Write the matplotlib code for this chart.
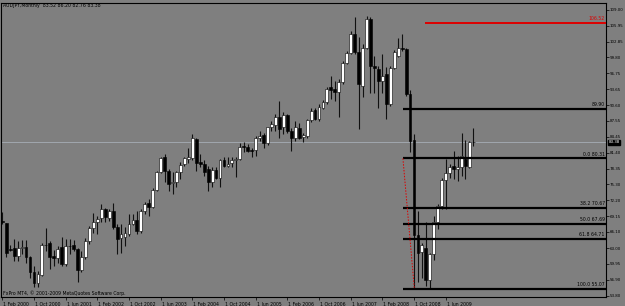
import matplotlib
matplotlib.use("Agg")
import matplotlib.pyplot as plt
import matplotlib.transforms as mtransforms

# ---------------- data ----------------
opens = [68.3, 67.8, 62.9, 63.0, 61.4, 63.0, 63.2, 61.2, 58.4, 56.3,
         57.8, 63.6, 63.9, 61.5, 61.1, 63.2, 60.0, 63.4, 63.6, 62.8,
         58.7, 61.2, 64.3, 66.9, 68.1, 68.8, 70.5, 68.8, 70.2, 67.1,
         64.9, 65.1, 65.8, 67.7, 68.4, 66.3, 70.1, 71.6, 71.0, 74.2,
         77.6, 80.5, 77.9, 75.6, 75.7, 77.6, 79.2, 80.2, 80.4, 84.0,
         79.7, 79.3, 78.2, 75.8, 78.0, 76.5, 79.9, 78.9, 79.4, 80.0,
         80.2, 82.6, 82.6, 81.9, 81.9, 84.3, 84.9, 83.2, 86.3, 86.8,
         88.3, 86.3, 88.7, 85.6, 84.2, 86.2, 84.5, 84.7, 87.7, 89.6,
         87.9, 90.1, 91.1, 94.1, 93.7, 93.2, 95.0, 98.8, 100.6, 104.4,
         100.8, 94.3, 101.7, 107.2, 98.1, 97.5, 95.2, 96.5, 90.9, 97.7,
         100.1, 101.7, 101.4, 92.7, 83.8, 65.6, 62.2, 63.1, 56.8, 61.8,
         68.0, 71.2, 76.1, 77.4, 78.9, 78.2, 78.7, 80.2, 78.7, 83.52]
highs = [70.0, 67.9, 63.6, 64.7, 64.4, 64.5, 64.5, 61.5, 59.6, 58.6,
         63.9, 66.9, 64.4, 62.6, 63.4, 65.2, 64.7, 64.7, 64.5, 63.1,
         62.5, 65.0, 67.2, 69.7, 69.2, 71.5, 70.8, 70.5, 71.6, 67.6,
         67.6, 67.0, 69.5, 69.5, 70.2, 70.5, 71.8, 72.5, 74.6, 77.9,
         80.6, 81.1, 78.2, 77.6, 77.9, 79.7, 80.6, 82.4, 85.0, 84.2,
         81.1, 79.9, 78.9, 78.6, 78.6, 80.2, 80.6, 80.6, 80.5, 80.5,
         83.2, 83.4, 83.1, 82.4, 84.7, 85.5, 85.3, 86.4, 87.6, 88.9,
         91.3, 89.2, 88.9, 86.2, 87.6, 87.1, 85.3, 87.9, 90.0, 90.0,
         90.8, 91.6, 94.0, 96.3, 95.3, 95.6, 99.2, 101.1, 104.8, 107.6,
         103.7, 102.4, 107.8, 107.6, 100.1, 98.2, 100.4, 97.9, 98.2, 101.2,
         103.5, 104.4, 101.7, 93.5, 85.0, 70.2, 63.9, 68.0, 62.1, 69.2,
         71.5, 76.6, 80.2, 79.2, 81.8, 80.8, 85.3, 83.8, 83.7, 86.20]
lows = [67.7, 61.2, 62.5, 60.5, 60.5, 61.8, 60.2, 57.3, 55.4, 55.4,
        57.6, 62.5, 58.9, 59.6, 60.2, 59.6, 59.6, 61.8, 62.5, 56.4,
        58.3, 60.9, 63.8, 66.0, 65.8, 68.0, 68.1, 68.3, 66.7, 61.9,
        62.1, 63.4, 65.4, 67.5, 65.8, 66.0, 69.5, 69.2, 70.8, 74.1,
        77.4, 75.7, 74.1, 73.5, 74.7, 76.3, 78.9, 79.5, 79.9, 77.9,
        78.6, 77.0, 74.1, 74.8, 76.3, 74.8, 78.6, 78.6, 78.6, 76.8,
        79.9, 81.5, 81.5, 80.6, 80.8, 83.7, 82.4, 82.9, 85.6, 85.6,
        84.3, 85.0, 85.3, 81.8, 83.7, 84.0, 83.4, 84.3, 87.4, 87.7,
        87.6, 89.8, 90.8, 91.8, 91.4, 88.2, 94.7, 98.5, 100.4, 100.4,
        86.0, 92.1, 101.4, 93.0, 93.0, 90.1, 93.0, 87.9, 90.5, 97.5,
        99.8, 101.1, 92.4, 81.5, 55.07, 56.4, 57.3, 55.7, 55.3, 60.7,
        66.7, 70.5, 70.5, 76.6, 76.3, 76.0, 77.0, 76.3, 78.4, 82.76]
closes = [68.0, 62.0, 62.6, 61.4, 63.0, 63.2, 61.2, 58.4, 56.2, 58.0,
          63.6, 63.5, 61.3, 61.1, 62.9, 60.0, 63.4, 63.3, 62.8, 58.7,
          61.2, 64.4, 66.9, 68.1, 68.7, 70.5, 68.9, 70.2, 67.0, 64.7,
          65.7, 66.0, 67.6, 68.4, 66.3, 70.1, 71.5, 71.0, 74.2, 77.6,
          80.3, 77.8, 75.4, 75.8, 77.6, 79.1, 80.4, 80.6, 84.2, 79.5,
          79.3, 77.6, 75.8, 78.0, 76.5, 79.9, 78.9, 79.2, 79.9, 80.1,
          82.6, 82.5, 81.7, 81.8, 84.3, 84.7, 83.2, 86.3, 86.9, 88.3,
          86.0, 88.7, 85.6, 84.2, 86.3, 84.3, 84.9, 87.7, 89.5, 87.9,
          90.3, 91.1, 93.7, 93.5, 93.2, 95.0, 98.8, 100.6, 104.4, 100.8,
          94.7, 101.7, 107.2, 98.2, 97.7, 95.2, 96.3, 90.8, 97.7, 100.8,
          101.7, 101.5, 92.7, 83.7, 65.5, 62.0, 63.5, 56.8, 61.8, 68.0,
          71.2, 76.1, 77.4, 78.6, 78.2, 78.6, 80.8, 78.9, 83.5, 83.38]

date_labels = ["1 Feb 2000", "1 Oct 2000", "1 Jun 2001", "1 Feb 2002", "1 Oct 2002",
               "1 Jun 2003", "1 Feb 2004", "1 Oct 2004", "1 Jun 2005", "1 Feb 2006",
               "1 Oct 2006", "1 Jun 2007", "1 Feb 2008", "1 Oct 2008", "1 Jun 2009"]
date_label_bars = [0, 8, 16, 24, 32, 40, 48, 56, 64, 72, 80, 88, 96, 104, 112]

price_labels = ["109.00", "105.95", "102.85", "99.80", "96.75", "93.65", "90.60",
                "87.55", "84.45", "81.40", "78.35", "75.30", "72.20", "69.15",
                "66.10", "63.00", "59.95", "56.90", "53.80"]

fib_levels = [80.31, 70.67, 67.69, 64.71, 55.07]
fib_names = ["0.0", "38.2", "50.0", "61.8", "100.0"]
level_8990 = 89.90
red_level = 106.52
last_price = 83.38
title = "AUDJPY,Monthly  83.52 86.20 82.76 83.38"
copyright_txt = "FxPro MT4, \u00a9 2001-2009 MetaQuotes Software Corp."

# ---------------- figure ----------------
BG = "#7f7f7f"
W, H = 625, 306
fig = plt.figure(figsize=(W / 100, H / 100), dpi=100, facecolor=BG)
L, R, T, B = 1, 606, 3, 297
ax = fig.add_axes([L / W, 1 - B / H, (R - L) / W, (B - T) / H], facecolor=BG)

xmin, xmax = -0.33, 152.5
ymin, ymax = 53.55, 110.3
ax.set_xlim(xmin, xmax)
ax.set_ylim(ymin, ymax)

FS = 3.3
FSY = 2.9
n = len(opens)
xs = list(range(n))

# wicks
ax.vlines(xs, lows, highs, colors="#111111", linewidth=0.8, zorder=3)
# bodies
bw = 0.72
for i in xs:
    o, c = opens[i], closes[i]
    lo, hi = min(o, c), max(o, c)
    h = max(hi - lo, 0.18)
    if c >= o:
        ax.bar(i, h, bottom=lo, width=bw, color="white", edgecolor="black",
               linewidth=0.4, zorder=4)
    else:
        ax.bar(i, h, bottom=lo, width=bw, color="black", edgecolor="black",
               linewidth=0.4, zorder=4)

# current price line
ax.axhline(last_price, color="#a6adb5", linewidth=0.6, zorder=1)

# fib lines
fib_start = 101.2
for lvl, name in zip(fib_levels, fib_names):
    ax.hlines(lvl, fib_start, xmax, colors="black", linewidth=1.6, zorder=5)
    ax.text(xmax - 0.3, lvl + 0.35, f"{name} {lvl:.2f}", fontsize=FS,
            ha="right", va="bottom", color="black", zorder=6)
ax.hlines(level_8990, fib_start, xmax, colors="black", linewidth=1.6, zorder=5)
ax.text(xmax - 0.3, level_8990 + 0.35, f"{level_8990:.2f}", fontsize=FS,
        ha="right", va="bottom", color="black", zorder=6)
ax.hlines(red_level, 106.7, xmax, colors="#dd0000", linewidth=1.4, zorder=5)
ax.text(xmax - 0.3, red_level + 0.35, f"{red_level:.2f}", fontsize=FS,
        ha="right", va="bottom", color="#dd0000", zorder=6)
ax.plot([fib_start, 104.1], [fib_levels[0], fib_levels[-1]], color="#dd0000",
        linewidth=0.7, linestyle=(0, (1.5, 1.5)), zorder=5)

# axes styling
for s in ax.spines.values():
    s.set_color("black")
    s.set_linewidth(0.8)
ax.yaxis.tick_right()
ax.set_yticks([float(p) for p in price_labels])
ax.set_yticklabels(price_labels)
ax.tick_params(axis="y", which="both", direction="out", length=1.8, width=0.5,
               pad=0.8, labelsize=FSY, colors="black")
ax.set_xticks(date_label_bars)
ax.set_xticklabels(date_labels, ha="left")
ax.tick_params(axis="x", which="both", direction="out", length=2.5, width=0.5,
               pad=0.8, labelsize=FS, colors="black")
offset = mtransforms.ScaledTranslation(1.0 / 100, 0, fig.dpi_scale_trans)
for lab in ax.get_xticklabels():
    lab.set_transform(lab.get_transform() + offset)

# current price box
ax.text(1.004, last_price, f"{last_price:.2f}", transform=ax.get_yaxis_transform(),
        fontsize=FSY, color="white", ha="left", va="center", zorder=10,
        bbox=dict(boxstyle="square,pad=0.15", fc="black", ec="black"), clip_on=False)

# title and copyright
fig.text(3 / W, 1 - 6 / H, title, fontsize=FS, ha="left", va="center", color="black")
fig.text(3 / W, 1 - 293 / H, copyright_txt, fontsize=FS, ha="left", va="center", color="black")

fig.savefig("out.png", dpi=100, facecolor=BG)
